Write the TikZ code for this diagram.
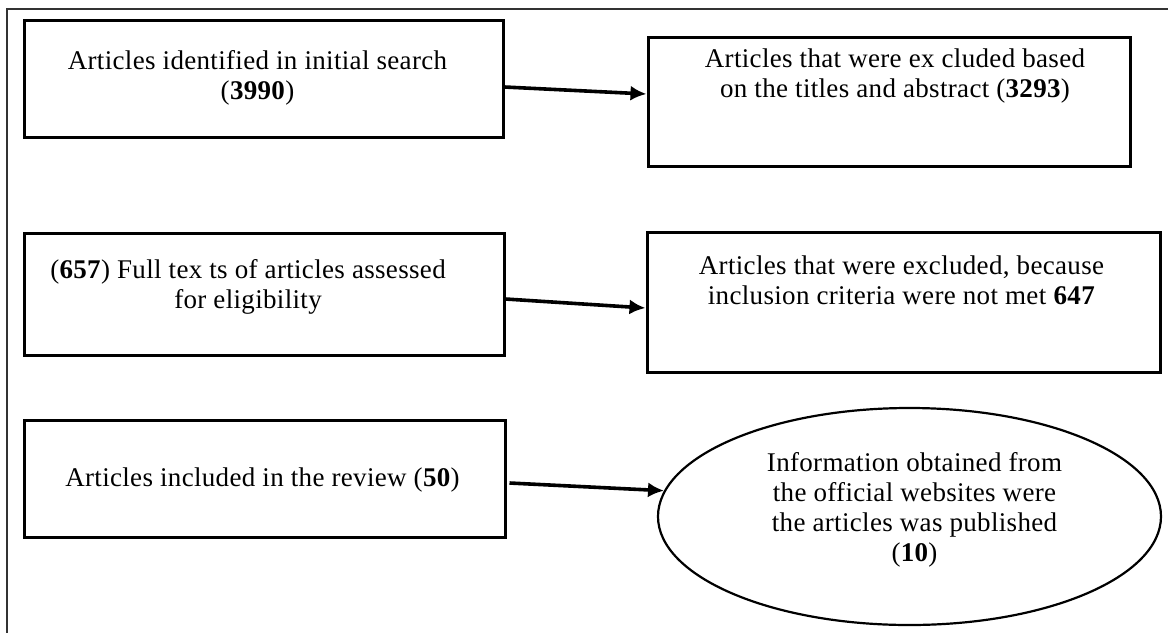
\documentclass[tikz,border=0pt]{standalone}
\usepackage{fontspec}
\setmainfont[LetterSpace=1.2]{Liberation Serif}
\usetikzlibrary{shapes.geometric,arrows.meta}
\begin{document}
\begin{tikzpicture}[x=1pt,y=-1pt,
  box/.style={draw=black,line width=3pt,rectangle,inner sep=0pt},
  oval/.style={draw=black,line width=2.2pt,ellipse,inner sep=0pt},
  txt/.style={align=center,inner sep=0pt,font=\fontsize{27}{30}\selectfont},
  arr/.style={line width=3.6pt,-{Latex[length=16pt 0 1,width=15pt 0 1]}},
  frame/.style={draw=black!80,line width=1.2pt}]
\useasboundingbox (0,0) rectangle (1168,633);
% outer frame (top and left edges)
\draw[frame] (1168,9) -- (7,9) -- (7,633);

% left column
\node[box,minimum width=479pt,minimum height=117pt] (b1) at (263.5,78.5) {};
\node[box,minimum width=480pt,minimum height=122pt] (b3) at (264,294) {};
\node[box,minimum width=481pt,minimum height=117pt] (b5) at (264.5,478.5) {};

% right column
\node[box,minimum width=482pt,minimum height=129pt] (b2) at (889,101.5) {};
\node[box,minimum width=513pt,minimum height=140pt] (b4) at (903.5,302) {};
\node[oval,minimum width=503pt,minimum height=217pt] (e) at (909.5,516.5) {};

% texts
\node[txt] (t1) at ([xshift=-6pt,yshift=1pt]b1.center)
  {Articles identified in initial search\\(\textbf{3990})};
\node[txt] (t2) at ([xshift=6pt,yshift=25.5pt]b2.center)
  {Articles that were ex cluded based\\on the titles and abstract (\textbf{3293})};
\node[txt] (t3) at ([xshift=-16pt,yshift=7pt]b3.center)
  {(\textbf{657}) Full tex ts of articles assessed\\for eligibility};
\node[txt] (t4) at ([xshift=-2pt,yshift=22pt]b4.center)
  {Articles that were excluded, because\\inclusion criteria were not met \textbf{647}};
\node[txt] (t5) at ([xshift=-2pt,yshift=-1.5pt]b5.center)
  {Articles included in the review (\textbf{50})};
\node[txt] (t6) at ([xshift=5pt,yshift=6.5pt]e.center)
  {Information obtained from\\the official websites were\\the articles was published\\(\textbf{10})};

% connectors
\draw[arr] ([yshift=-8.5pt]b1.east) -- ([yshift=7.5pt]b2.west);
\draw[arr] ([yshift=-5pt]b3.east) -- ([yshift=-6pt]b4.west);
\draw[arr] ([xshift=3pt,yshift=-4.5pt]b5.east) -- (e.174);
\end{tikzpicture}
\end{document}
